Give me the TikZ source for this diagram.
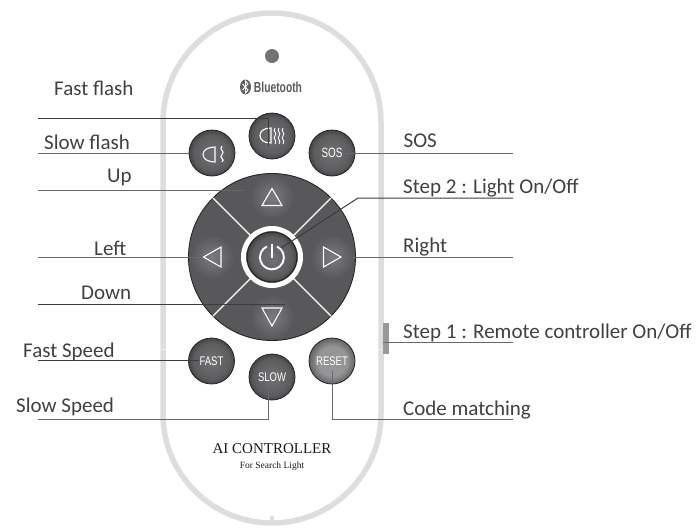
\documentclass[tikz,border=0pt]{standalone}
\usepackage{fontspec}
\usetikzlibrary{shapes.geometric}
\setmainfont{Carlito}
\newfontfamily\helv{Liberation Sans}
\newfontfamily\tms{Liberation Serif}
\definecolor{btnlight}{HTML}{727274}
\definecolor{btndark}{HTML}{454547}
\definecolor{btnmid}{HTML}{5C5C5E}
\definecolor{rstlight}{HTML}{959597}
\definecolor{rstdark}{HTML}{636365}
\definecolor{glow}{HTML}{7C7C7E}
\definecolor{discfill}{HTML}{58585A}
\definecolor{bodyline}{HTML}{DCDDDE}
\definecolor{seam}{HTML}{EEEEEF}
\definecolor{inklabel}{HTML}{404040}
\definecolor{leader}{HTML}{3C3C3E}
\definecolor{leadgray}{HTML}{68686A}
\pgfdeclareradialshading{btnshade}{\pgfpoint{0bp}{0bp}}{color(0bp)=(btnlight);color(20bp)=(btnmid);color(25bp)=(btndark);color(50bp)=(btndark)}
\pgfdeclareradialshading{resetshade}{\pgfpoint{0bp}{0bp}}{color(0bp)=(rstlight);color(16bp)=(rstlight);color(25bp)=(rstdark);color(50bp)=(rstdark)}
\pgfdeclareradialshading{glowshade}{\pgfpoint{0bp}{0bp}}{color(0bp)=(glow);color(25bp)=(discfill);color(50bp)=(discfill)}
\tikzset{
  x=1pt,y=-1pt,
  bodyring/.style={draw=bodyline,line width=5.5pt},
  btn/.style={circle,minimum size=46pt,inner sep=0pt,draw=black!85,line width=.8pt,shading=btnshade},
  rbtn/.style={btn,shading=resetshade},
  btntext/.style={text=white,font=\helv\fontsize{12.5}{14}\selectfont,inner sep=0pt,xscale=.76},
  lab/.style={anchor=base west,inner sep=0pt,text=inklabel,font=\fontsize{21}{24}\selectfont},
  leadline/.style={draw=leader,line width=1pt},
  leadsoft/.style={draw=leadgray,line width=1pt},
  whiteline/.style={draw=white,line width=1.1pt},
  icon/.style={draw=white,line width=1.1pt,line join=miter},
  glowspot/.style={circle,minimum size=44pt,inner sep=0pt,shading=glowshade},
}
\begin{document}
\begin{tikzpicture}
\useasboundingbox (0,0) rectangle (697,528);
% body
\draw[bodyring] (163,122) arc[start angle=180,end angle=360,x radius=109,y radius=109] -- (381,414)
  arc[start angle=0,end angle=180,x radius=109,y radius=109] -- cycle;
\draw[draw=bodyline,line width=3.5pt] (272,516) -- (272,523);
\draw[seam,line width=.8pt] (160,349) -- (166,349) (378,349) -- (384,349);
\node[fill=black!55,draw=none,circle,minimum size=14pt,inner sep=0pt] (led) at (272,56) {};
\fill[black!40] (383,323) rectangle (389,354);
\coordinate (sideswitch) at (383,342);
% bluetooth
\node[ellipse,fill=black!62,minimum width=11pt,minimum height=15pt,inner sep=0pt] (btlogo) at (245.5,87) {};
\draw[white,line width=.9pt] (242.5,84) -- (248,90) -- (245.5,93) -- (245.5,81) -- (248,84) -- (242.5,90);
\node[inner sep=0pt,text=black!65,font=\helv\bfseries\fontsize{14.5}{16}\selectfont,xscale=.71] (bt) at (278,87) {Bluetooth};
% disc
\node[circle,minimum size=167pt,inner sep=0pt,fill=discfill,draw=black!85,line width=.9pt] (disc) at (272,257) {};
\begin{scope}
\clip (272,257) circle[radius=83];
\node[glowspot] (gu) at (272,197) {};
\node[glowspot] (gd) at (272,317) {};
\node[glowspot] (gl) at (212,257) {};
\node[glowspot] (gr) at (332,257) {};
\end{scope}
\foreach \a in {45,135,225,315}
  \draw[whiteline] (272,257) ++(\a:30) -- ++(\a:53.5);
\node[circle,minimum size=57pt,inner sep=0pt,draw=white,line width=5pt,fill=none] (ring) at (272,257) {};
\node[btn,minimum size=50pt,draw=black!85,line width=1pt] (pow) at (272,257) {};
\draw[white,line width=1.9pt] (277,246.5) arc[start angle=-65,end angle=245,radius=12];
\draw[white,line width=1.9pt] (272,244) -- (272,258);
\draw[icon] (272,188.5) -- (282,205.5) -- (262,205.5) -- cycle;
\draw[icon] (272,326) -- (282,308) -- (262,308) -- cycle;
\draw[icon] (203.5,257) -- (221,247) -- (221,267) -- cycle;
\draw[icon] (341,257) -- (323.5,247) -- (323.5,267) -- cycle;
% buttons
\node[btn] (fastflash) at (272,136) {};
\node[btn] (slowflash) at (212,153) {};
\node[btn] (sos) at (332,153) {};
\node[btn] (fast) at (211.5,361) {};
\node[btn] (slow) at (272,377) {};
\node[rbtn] (reset) at (332,361) {};
\node[btntext,font=\helv\fontsize{13.5}{15}\selectfont,xscale=.96] at (sos) {SOS};
\node[btntext] at (fast) {FAST};
\node[btntext] at (slow) {SLOW};
\node[btntext] at (reset) {RESET};
% headlight icons
\draw[icon] (215,147) -- (215,162) .. controls (208,162) and (203,159) .. (203,154.5) .. controls (203,150) and (208,147) .. (215,147) -- cycle;
\draw[icon] (222,146) .. controls (218,150) and (226,151) .. (222,154.5) .. controls (218,158) and (226,159) .. (222,162);
\draw[icon] (271,128) -- (271,143) .. controls (264,143) and (260,140) .. (260,135.5) .. controls (260,131) and (264,128) .. (271,128) -- cycle;
\foreach \xx in {275,279,283}
  \draw[icon,line width=.9pt] (\xx,128) .. controls (\xx-3,132) and (\xx+3,132) .. (\xx,136) .. controls (\xx-3,139) and (\xx+3,140) .. (\xx,144);
% text on body
\node[inner sep=0pt,font=\tms\fontsize{15}{17}\selectfont,text=black!90] (title) at (272,448.5) {AI CONTROLLER};
\node[inner sep=0pt,font=\tms\fontsize{9.5}{11}\selectfont,text=black!90] (subtitle) at (272,466) {For Search Light};
% free ends
\coordinate (eFF) at (38,118); \coordinate (eSF) at (38,153); \coordinate (eUp) at (38,190);
\coordinate (eL) at (38,257); \coordinate (eD) at (38,304); \coordinate (eFS) at (38,360.5);
\coordinate (eSS) at (38,419.5); \coordinate (eSOS) at (513,153); \coordinate (eS2) at (513,198);
\coordinate (eR) at (513,257); \coordinate (eS1) at (513,342); \coordinate (eCM) at (513,419.5);
% leaders
\draw[leadline] (eFF) -- (268,118) -- (268,146);
\draw[leadsoft] (eSF) -- (slowflash.west);
\draw[leadsoft] (eSOS) -- (345,153);
\draw[leadsoft] (eUp) -- (244,190);
\draw[leadline] (eS2) -- (358,198) -- (281,248);
\draw[leadsoft] (eL) -- (200,257);
\draw[leadsoft] (eR) -- (342,257);
\draw[leadline] (eD) -- (285,304);
\draw[leadsoft] (eS1) -- (sideswitch);
\draw[leadline] (eFS) -- (199,360.5);
\draw[leadsoft] (eSS) -- (268,419.5) -- (268,389);
\draw[leadsoft] (eCM) -- (332,419.5) -- (332,371);
% labels
\node[lab] at (54,95) {Fast flash};
\node[lab] at (44,149) {Slow flash};
\node[lab] at (107,182.5) {Up};
\node[lab] at (94,255) {Left};
\node[lab] at (81,299) {Down};
\node[lab] at (23,357) {Fast Speed};
\node[lab] at (16,412) {Slow Speed};
\node[lab] at (403.5,147) {SOS};
\node[lab] at (403,193) {Step 2 : Light On/Off};
\node[lab] at (403,252) {Right};
\node[lab] at (403,338) {Step 1 : Remote controller On/Off};
\node[lab] at (403,415) {Code matching};
\end{tikzpicture}
\end{document}
